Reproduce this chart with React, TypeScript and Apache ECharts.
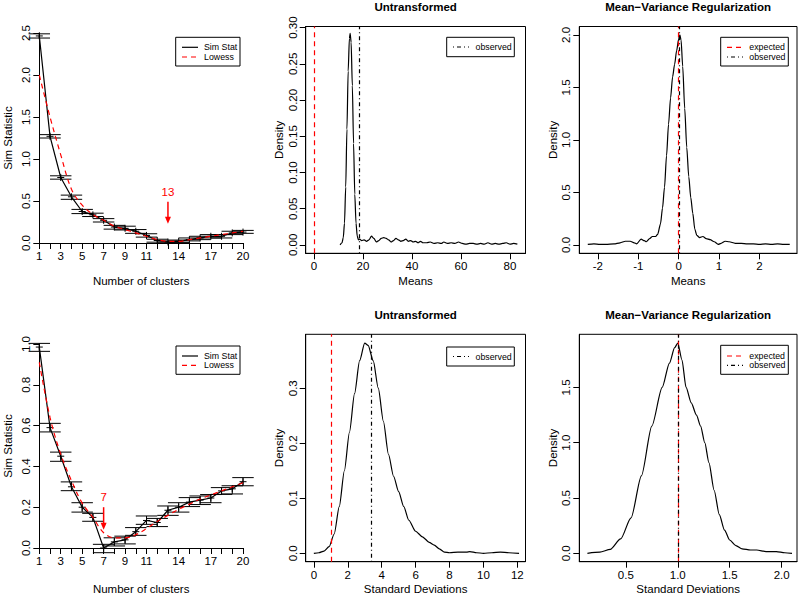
import React, { useEffect, useRef } from 'react';
import * as echarts from 'echarts';

const FONT = 'Liberation Sans, Arial, Helvetica, sans-serif';
const RED = '#ff0000';

// ---- Data: number of clusters panels ----
const clusters = [1, 2, 3, 4, 5, 6, 7, 8, 9, 10, 11, 12, 13, 14, 15, 16, 17, 18, 19, 20];
const clusterLabels = [1, 3, 5, 7, 9, 11, 14, 17, 20];

const simStatTop = [2.465, 1.27, 0.78, 0.55, 0.375, 0.335, 0.27, 0.19, 0.175, 0.14, 0.09, 0.03, 0.012, 0.02, 0.04, 0.06, 0.08, 0.08, 0.12, 0.13];
const simLoTop = [2.44, 1.25, 0.76, 0.52, 0.35, 0.315, 0.25, 0.165, 0.155, 0.115, 0.07, 0.01, 0.0, 0.005, 0.025, 0.04, 0.06, 0.06, 0.1, 0.115];
const simHiTop = [2.49, 1.29, 0.8, 0.57, 0.4, 0.355, 0.29, 0.21, 0.2, 0.16, 0.11, 0.045, 0.025, 0.035, 0.06, 0.08, 0.1, 0.1, 0.14, 0.15];
const lowessTop = [2.0, 1.5, 1.05, 0.64, 0.45, 0.34, 0.27, 0.2, 0.16, 0.12, 0.08, 0.04, 0.02, 0.02, 0.04, 0.06, 0.08, 0.1, 0.12, 0.14];
const bestTop = 13;

const simStatBot = [0.985, 0.59, 0.45, 0.3, 0.2, 0.15, 0.0, 0.03, 0.04, 0.08, 0.135, 0.125, 0.185, 0.2, 0.225, 0.235, 0.245, 0.28, 0.29, 0.325];
const simLoBot = [0.964, 0.569, 0.425, 0.281, 0.176, 0.131, -0.023, 0.01, 0.02, 0.062, 0.116, 0.105, 0.16, 0.176, 0.203, 0.213, 0.222, 0.263, 0.265, 0.305];
const simHiBot = [1.003, 0.611, 0.47, 0.324, 0.222, 0.17, 0.018, 0.05, 0.058, 0.1, 0.157, 0.145, 0.206, 0.222, 0.247, 0.255, 0.262, 0.296, 0.305, 0.345];
const lowessBot = [0.91, 0.64, 0.46, 0.33, 0.22, 0.15, 0.075, 0.05, 0.05, 0.065, 0.095, 0.13, 0.16, 0.19, 0.215, 0.24, 0.26, 0.28, 0.3, 0.32];
const bestBot = 7;

// ---- Data: density panels ----
const meansRawX = [10.7, 11.5, 12, 12.5, 13, 13.5, 14, 14.5, 14.8, 15.2, 15.7, 16.2, 16.7, 17.2, 17.7, 18.2, 18.7, 19.5, 20.5, 21.5, 22.5, 23.5, 24.5, 25.5, 26.5, 27.5, 28.5, 29.5, 30.5, 31.5, 32.5, 33.5, 34.5, 35.5, 36.5, 37.5, 38.5, 39.5, 40.5, 41.5, 42.5, 43.5, 44.5, 46, 47.5, 49, 50.5, 52, 53, 54.5, 56, 57.5, 59, 60.5, 62, 63.5, 65, 66.5, 68, 69.5, 71, 72.5, 74, 75.5, 77, 78.5, 80, 81.5, 83];
const meansRawY = [0, 0.003, 0.01, 0.03, 0.08, 0.16, 0.24, 0.285, 0.292, 0.28, 0.22, 0.14, 0.07, 0.03, 0.012, 0.007, 0.008, 0.006, 0.007, 0.005, 0.007, 0.012, 0.009, 0.004, 0.006, 0.009, 0.01, 0.009, 0.007, 0.004, 0.006, 0.009, 0.007, 0.005, 0.006, 0.008, 0.005, 0.006, 0.004, 0.005, 0.003, 0.005, 0.003, 0.003, 0.004, 0.002, 0.003, 0.002, 0.004, 0.002, 0.003, 0.002, 0.004, 0.002, 0.001, 0.002, 0.002, 0.001, 0.002, 0.001, 0.003, 0.001, 0.002, 0.001, 0.002, 0.003, 0.001, 0.002, 0.001];
const meansRawExpected = 0;
const meansRawObserved = 18.6;

const meansMvrX = [-2.25, -2.1, -1.95, -1.8, -1.6, -1.45, -1.32, -1.2, -1.1, -1.04, -0.93, -0.85, -0.8, -0.72, -0.65, -0.57, -0.52, -0.45, -0.4, -0.35, -0.3, -0.25, -0.2, -0.15, -0.1, -0.05, 0, 0.03, 0.06, 0.1, 0.15, 0.2, 0.25, 0.3, 0.35, 0.4, 0.45, 0.52, 0.6, 0.68, 0.78, 0.88, 0.98, 1.05, 1.15, 1.25, 1.4, 1.55, 1.7, 1.85, 2.0, 2.15, 2.3, 2.45, 2.6, 2.75];
const meansMvrY = [0.005, 0.01, 0.005, 0.005, 0.01, 0.02, 0.035, 0.035, 0.02, 0.01, 0.055, 0.04, 0.03, 0.06, 0.08, 0.08, 0.1, 0.2, 0.35, 0.55, 0.85, 1.15, 1.4, 1.6, 1.72, 1.85, 1.96, 2.0, 1.95, 1.7, 1.3, 0.93, 0.65, 0.45, 0.3, 0.15, 0.09, 0.07, 0.08, 0.06, 0.05, 0.03, 0.005, 0.015, 0.035, 0.03, 0.015, 0.015, 0.01, 0.01, 0.005, 0.01, 0.005, 0.01, 0.005, 0.005];
const meansMvrExpected = 0;
const meansMvrObserved = 0.005;

const sdRawX = [0, 0.3, 0.6, 0.9, 1.2, 1.5, 1.8, 2.1, 2.4, 2.7, 3.0, 3.2, 3.5, 3.8, 4.1, 4.4, 4.7, 5.0, 5.3, 5.6, 6.0, 6.4, 6.8, 7.1, 7.4, 7.7, 8.0, 8.5, 9.0, 9.2, 9.6, 10.0, 10.5, 11.0, 11.5, 12.1];
const sdRawY = [0, 0.001, 0.004, 0.012, 0.035, 0.085, 0.15, 0.22, 0.29, 0.35, 0.382, 0.378, 0.35, 0.3, 0.24, 0.18, 0.14, 0.112, 0.085, 0.06, 0.04, 0.03, 0.02, 0.015, 0.008, 0.002, 0.001, 0.002, 0.002, 0.003, 0.001, 0.0, 0.001, 0.002, 0.001, 0.0];
const sdRawExpected = 1;
const sdRawObserved = 3.38;

const sdMvrX = [0.13, 0.25, 0.35, 0.45, 0.55, 0.65, 0.75, 0.85, 0.92, 0.97, 1.0, 1.04, 1.08, 1.13, 1.18, 1.22, 1.26, 1.3, 1.35, 1.4, 1.45, 1.5, 1.56, 1.62, 1.7, 1.76, 1.85, 1.95, 2.03, 2.1];
const sdMvrY = [0.0, 0.01, 0.035, 0.13, 0.32, 0.7, 1.15, 1.5, 1.72, 1.86, 1.9, 1.75, 1.5, 1.36, 1.25, 1.15, 1.0, 0.82, 0.57, 0.35, 0.21, 0.12, 0.07, 0.04, 0.03, 0.03, 0.015, 0.015, 0.005, 0.0];
const sdMvrExpected = 1;
const sdMvrObserved = 1.0;

// tick values
const ticksMeansRaw = [0, 20, 40, 60, 80];
const ticksDensMeansRaw = [0, 0.05, 0.1, 0.15, 0.2, 0.25, 0.3];
const ticksMeansMvr = [-2, -1, 0, 1, 2];
const ticksDensMeansMvr = [0, 0.5, 1, 1.5, 2];
const ticksSdRaw = [0, 2, 4, 6, 8, 10, 12];
const ticksDensSdRaw = [0, 0.1, 0.2, 0.3];
const ticksSdMvr = [0.5, 1, 1.5, 2];
const ticksDensSdMvr = [0, 0.5, 1, 1.5];

// ---- Layout ----
const grids = [
  { left: 39.3, top: 33, width: 203.7, height: 210, boxed: false },
  { left: 305.7, top: 26.5, width: 219.8, height: 226.8, boxed: true },
  { left: 579.3, top: 26.5, width: 217.7, height: 226.8, boxed: true },
  { left: 39.3, top: 344, width: 203.7, height: 204, boxed: false },
  { left: 305.7, top: 334.3, width: 219.8, height: 227.4, boxed: true },
  { left: 579.3, top: 334.3, width: 217.7, height: 227.4, boxed: true },
];

const pair = (xs: number[], ys: number[]) => xs.map((x, i) => [x, ys[i]]);

const labelBase = { color: '#000', fontSize: 11.5, fontFamily: FONT };

function xAxisDef(i: number, min: number, max: number, ticks: number[] | null, fmt: (v: number) => string, interval?: number) {
  const a: any = {
    gridIndex: i, type: 'value', min, max,
    axisLine: { show: true, onZero: false, lineStyle: { color: '#000', width: 1 } },
    axisTick: { show: true, length: 6, lineStyle: { color: '#000', width: 1 } },
    axisLabel: { ...labelBase, margin: 7, formatter: fmt, hideOverlap: false },
    splitLine: { show: false },
  };
  if (interval) a.interval = interval;
  if (ticks) { a.axisTick.customValues = ticks; a.axisLabel.customValues = ticks; }
  return a;
}
function yAxisDef(i: number, min: number, max: number, ticks: number[] | null, fmt: (v: number) => string, interval?: number) {
  const a: any = {
    gridIndex: i, type: 'value', min, max,
    axisLine: { show: true, onZero: false, lineStyle: { color: '#000', width: 1 } },
    axisTick: { show: true, length: 6, lineStyle: { color: '#000', width: 1 } },
    axisLabel: { ...labelBase, margin: 7, rotate: 90, formatter: fmt, hideOverlap: false },
    splitLine: { show: false },
  };
  if (interval) a.interval = interval;
  if (ticks) { a.axisTick.customValues = ticks; a.axisLabel.customValues = ticks; }
  return a;
}

const errRender = (params: any, api: any) => {
  const k = api.value(0), v = api.value(1), lo = api.value(2), hi = api.value(3);
  const pLo = api.coord([k, lo]);
  const pHi = api.coord([k, hi]);
  const pV = api.coord([k, v]);
  const xl = api.coord([k - 1, lo])[0];
  const xr = api.coord([k + 1, lo])[0];
  const style = { stroke: '#000', lineWidth: 1 };
  return {
    type: 'group',
    children: [
      { type: 'line', shape: { x1: pLo[0], y1: pLo[1], x2: pHi[0], y2: pHi[1] }, style },
      { type: 'line', shape: { x1: xl, y1: pLo[1], x2: xr, y2: pLo[1] }, style },
      { type: 'line', shape: { x1: xl, y1: pHi[1], x2: xr, y2: pHi[1] }, style },
      { type: 'line', shape: { x1: pV[0] - 3.5, y1: pV[1], x2: pV[0] + 3.5, y2: pV[1] }, style },
      { type: 'line', shape: { x1: pV[0], y1: pV[1] - 3.5, x2: pV[0], y2: pV[1] + 3.5 }, style },
    ],
  };
};

const arrowRender = (params: any, api: any) => {
  const k = api.value(0), top = api.value(1), bot = api.value(2), ty = api.value(3);
  const p1 = api.coord([k, top]);
  const p2 = api.coord([k, bot]);
  const pt = api.coord([k, ty]);
  return {
    type: 'group',
    children: [
      { type: 'line', shape: { x1: p1[0], y1: p1[1], x2: p2[0], y2: p2[1] - 5 }, style: { stroke: RED, lineWidth: 1.5 } },
      { type: 'polygon', shape: { points: [[p2[0] - 3, p2[1] - 7], [p2[0] + 3, p2[1] - 7], [p2[0], p2[1]]] }, style: { fill: RED } },
      { type: 'text', x: pt[0], y: pt[1], style: { text: String(k), fill: RED, fontSize: 11.5, fontFamily: FONT, align: 'center', verticalAlign: 'middle' } },
    ],
  };
};

const DASH = [5, 4];
const DOTDASH = [1, 3, 4, 3];

function clusterSeries(gi: number, stat: number[], lo: number[], hi: number[], low: number[], best: number, arrowTop: number, arrowBot: number, textY: number) {
  return [
    { type: 'line', xAxisIndex: gi, yAxisIndex: gi, data: pair(clusters, stat), symbol: 'none', lineStyle: { color: '#000', width: 1.2 }, clip: false, z: 3 },
    { type: 'line', xAxisIndex: gi, yAxisIndex: gi, data: pair(clusters, low), symbol: 'none', smooth: 0.35, lineStyle: { color: RED, width: 1.2, type: DASH }, clip: false, z: 4 },
    { type: 'custom', xAxisIndex: gi, yAxisIndex: gi, renderItem: errRender, data: clusters.map((k, i) => [k, stat[i], lo[i], hi[i]]), clip: false, z: 2 },
    { type: 'custom', xAxisIndex: gi, yAxisIndex: gi, renderItem: arrowRender, data: [[best, arrowTop, arrowBot, textY]], clip: false, z: 5 },
  ];
}

function densitySeries(gi: number, xs: number[], ys: number[], expected: number | null, observed: number) {
  const ml: any[] = [];
  if (expected !== null) ml.push({ xAxis: expected, lineStyle: { color: RED, type: DASH, width: 1.2 } });
  ml.push({ xAxis: observed, lineStyle: { color: '#000', type: DOTDASH, width: 1.2 } });
  return {
    type: 'line', xAxisIndex: gi, yAxisIndex: gi, data: pair(xs, ys), symbol: 'none',
    smooth: 0.25, smoothMonotone: 'x',
    lineStyle: { color: '#000', width: 1.2 },
    markLine: { silent: true, symbol: 'none', label: { show: false }, data: ml },
  };
}

function txt(text: string, x: number, y: number, opts: any = {}) {
  return {
    type: 'text', x, y, rotation: opts.rot ? Math.PI / 2 : 0,
    style: {
      text, fill: opts.color || '#000', fontSize: opts.size || 11.5, fontWeight: opts.bold ? 'bold' : 'normal',
      fontFamily: FONT, align: opts.align || 'center', verticalAlign: 'middle',
    },
  };
}

function legend(box: number[], rows: number[], lx: number[], tx: number, items: any[]) {
  const children: any[] = [
    { type: 'rect', shape: { x: box[0], y: box[1], width: box[2] - box[0], height: box[3] - box[1] }, style: { fill: '#fff', stroke: '#000', lineWidth: 1 } },
  ];
  items.forEach((it, i) => {
    children.push({ type: 'line', shape: { x1: lx[0], y1: rows[i], x2: lx[1], y2: rows[i] }, style: { stroke: it[1], lineWidth: 1.2, lineDash: it[2] } });
    children.push(txt(it[0], tx, rows[i], { size: 8.8, align: 'left' }));
  });
  return { type: 'group', children, z: 100 };
}

export default function App() {
  const ref = useRef<HTMLDivElement>(null);
  useEffect(() => {
    if (!ref.current) return;
    const chart = echarts.init(ref.current, undefined, { renderer: 'svg' });
    const f1 = (v: number) => v.toFixed(1);
    const f2 = (v: number) => v.toFixed(2);
    const f0 = (v: number) => String(v);
    const fClusters = (v: number) => (clusterLabels.indexOf(Math.round(v)) >= 0 ? String(Math.round(v)) : '');

    const gridOpts = grids.map((g) => ({
      left: g.left, top: g.top, width: g.width, height: g.height,
      containLabel: false, outerBoundsMode: 'none',
      show: g.boxed, borderColor: '#000', borderWidth: 1, backgroundColor: 'transparent',
    }));

    const xAxes = [
      xAxisDef(0, 1, 20, null, fClusters, 1),
      xAxisDef(1, -3.32, 86.32, ticksMeansRaw, f0),
      xAxisDef(2, -2.46, 2.93, ticksMeansMvr, f0),
      xAxisDef(3, 1, 20, null, fClusters, 1),
      xAxisDef(4, -0.48, 12.48, ticksSdRaw, f0),
      xAxisDef(5, 0.052, 2.148, ticksSdMvr, f1),
    ];
    const yAxes = [
      yAxisDef(0, 0, 2.5, null, f1, 0.5),
      yAxisDef(1, -0.0116, 0.3016, ticksDensMeansRaw, f2),
      yAxisDef(2, -0.08, 2.08, ticksDensMeansMvr, f1),
      yAxisDef(3, 0, 1.0, null, f1, 0.2),
      yAxisDef(4, -0.0153, 0.398, ticksDensSdRaw, f1),
      yAxisDef(5, -0.076, 1.98, ticksDensSdMvr, f1),
    ];

    const series: any[] = [
      ...clusterSeries(0, simStatTop, simLoTop, simHiTop, lowessTop, bestTop, 0.49, 0.23, 0.61),
      ...clusterSeries(3, simStatBot, simLoBot, simHiBot, lowessBot, bestBot, 0.2, 0.09, 0.25),
      densitySeries(1, meansRawX, meansRawY, meansRawExpected, meansRawObserved),
      densitySeries(2, meansMvrX, meansMvrY, meansMvrExpected, meansMvrObserved),
      densitySeries(4, sdRawX, sdRawY, sdRawExpected, sdRawObserved),
      densitySeries(5, sdMvrX, sdMvrY, sdMvrExpected, sdMvrObserved),
    ];

    const cx = (g: any) => g.left + g.width / 2;
    const cy = (g: any) => g.top + g.height / 2;
    const graphics: any[] = [
      // titles
      txt('Untransformed', cx(grids[1]), 7, { bold: true, size: 11.5 }),
      txt('Mean\u2212Variance Regularization', cx(grids[2]), 7, { bold: true, size: 11.5 }),
      txt('Untransformed', cx(grids[4]), 315, { bold: true, size: 11.5 }),
      txt('Mean\u2212Variance Regularization', cx(grids[5]), 315, { bold: true, size: 11.5 }),
      // axis names
      txt('Number of clusters', cx(grids[0]), 281),
      txt('Sim Statistic', 8, cy(grids[0]), { rot: true }),
      txt('Means', cx(grids[1]), 281),
      txt('Density', 279, cy(grids[1]), { rot: true }),
      txt('Means', cx(grids[2]), 281),
      txt('Density', 553, cy(grids[2]), { rot: true }),
      txt('Number of clusters', cx(grids[3]), 588.5),
      txt('Sim Statistic', 8, cy(grids[3]), { rot: true }),
      txt('Standard Deviations', cx(grids[4]), 588.5),
      txt('Density', 279, cy(grids[4]), { rot: true }),
      txt('Standard Deviations', cx(grids[5]), 588.5),
      txt('Density', 553, cy(grids[5]), { rot: true }),
      // legends
      legend([175.7, 37.3, 240, 66], [47.3, 57], [182, 198], 204, [['Sim Stat', '#000', null], ['Lowess', RED, DASH]]),
      legend([446.7, 37.3, 514.3, 56.7], [47], [453, 469], 475.5, [['observed', '#000', DOTDASH]]),
      legend([720.7, 37.3, 788.3, 66], [47.3, 57], [727, 743], 749.3, [['expected', RED, DASH], ['observed', '#000', DOTDASH]]),
      legend([176, 346, 240, 374.3], [356, 365.3], [182, 198], 204, [['Sim Stat', '#000', null], ['Lowess', RED, DASH]]),
      legend([446.7, 347, 514.3, 366], [356.5], [453, 469], 475.5, [['observed', '#000', DOTDASH]]),
      legend([720.7, 345.3, 788.3, 374.3], [356, 365.3], [727, 743], 749.3, [['expected', RED, DASH], ['observed', '#000', DOTDASH]]),
    ];

    chart.setOption({
      animation: false,
      backgroundColor: '#fff',
      textStyle: { fontFamily: FONT },
      grid: gridOpts,
      xAxis: xAxes,
      yAxis: yAxes,
      series,
      graphic: graphics,
    });
    return () => chart.dispose();
  }, []);
  return <div ref={ref} style={{ position: 'fixed', left: 0, top: 0, width: 800, height: 593, background: '#fff' }} />;
}
